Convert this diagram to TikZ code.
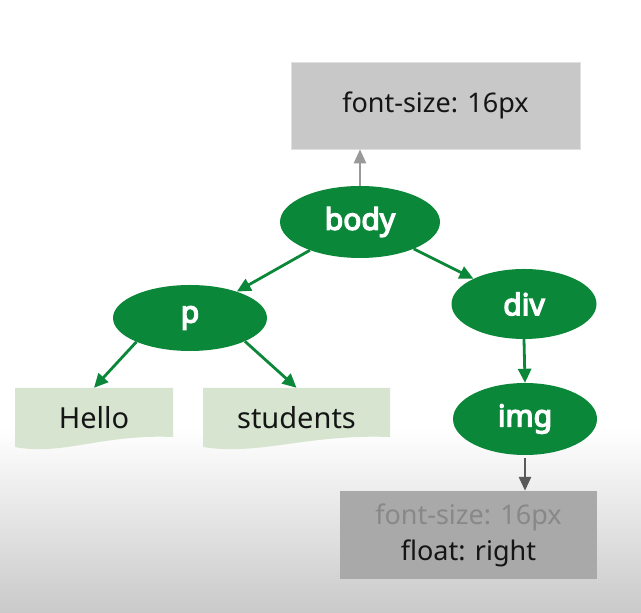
\documentclass[tikz,border=0pt]{standalone}
\usepackage{fontspec}
\setmainfont{Noto Sans}
\newfontfamily\tagfont{Noto Sans}[FakeBold=4.5]
\usetikzlibrary{shapes.geometric,arrows.meta,calc}
\definecolor{tgreen}{HTML}{0B873A}
\definecolor{docfill}{HTML}{D6E4D0}
\definecolor{topfill}{HTML}{C8C8C8}
\definecolor{botfill}{HTML}{A9A9A9}
\definecolor{fadetext}{HTML}{888888}
\definecolor{txt}{HTML}{151515}
\tikzset{
  tag/.style={ellipse, fill=tgreen, text=white, font=\fontsize{30}{34}\tagfont, inner sep=0pt},
  greenarrow/.style={draw=tgreen, line width=2.8pt, -{Triangle[length=14pt,width=13pt]}},
  grayarrow/.style={draw=#1, line width=2.8pt, -{Triangle[length=14pt,width=12pt]}},
  cssbox/.style={rectangle, inner sep=0pt, text=txt, font=\fontsize{27}{36}\selectfont, align=center},
  docbox/.style={rectangle, inner sep=0pt, text=txt, font=\fontsize{29}{34}\selectfont,
    minimum height=63pt,
    path picture={
      \fill[docfill] (path picture bounding box.north west) -- (path picture bounding box.north east)
        -- ($(path picture bounding box.south east)+(0,14)$)
        .. controls ($(path picture bounding box.south west)!0.55!(path picture bounding box.south east)+(0,17)$)
        and ($(path picture bounding box.south west)!0.3!(path picture bounding box.south east)+(0,-5)$)
        .. ($(path picture bounding box.south west)+(0,4)$) -- cycle;
    }},
}
\begin{document}
\begin{tikzpicture}[x=1pt,y=1pt]
\useasboundingbox (0,0) rectangle (641,613);
\fill[white] (0,0) rectangle (641,613);
\shade[top color=white, bottom color=black!21] (0,0) rectangle (641,185);

\node[cssbox, fill=topfill, draw=black!12, line width=0.8pt, minimum width=289pt, minimum height=87pt] (top) at (435.5,507.5) {font-size: 16px};
\node[tag, minimum width=160pt, minimum height=72pt] (body) at (360,391) {body};
\node[tag, minimum width=154pt, minimum height=66pt] (p) at (190,295) {p};
\node[tag, minimum width=145pt, minimum height=70pt] (div) at (524,309) {div};
\node[tag, minimum width=144pt, minimum height=72pt] (img) at (525,194) {img};
\node[docbox, minimum width=158pt] (hello) at (94,193.5) {\raisebox{4pt}{Hello}};
\node[docbox, minimum width=187pt] (students) at (296.5,193.5) {\raisebox{4pt}{students}};
\node[cssbox, fill=botfill, minimum width=257pt, minimum height=88pt] (bot) at (468.5,78) {\textcolor{fadetext}{font-size: 16px}\\float: right};

\draw[grayarrow=black!40] (body.north) -- (body.north |- top.south);
\draw[greenarrow] (body) -- (p);
\draw[greenarrow] (body) -- (div);
\draw[greenarrow] (p.204) -- (hello.north);
\draw[greenarrow] (p.337) -- (students.north);
\draw[greenarrow] (div.south) -- (img.north);
\draw[grayarrow=black!65, shorten <=3pt] (img.south) -- (img.south |- bot.north);
\end{tikzpicture}
\end{document}
